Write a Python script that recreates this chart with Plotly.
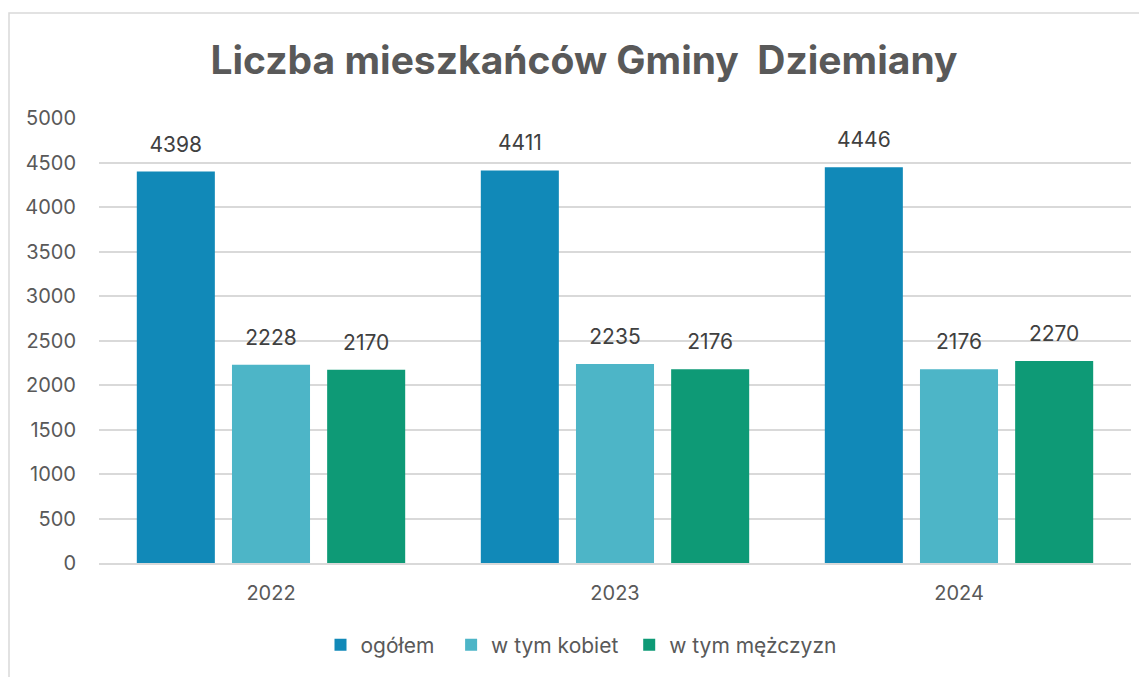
import plotly.graph_objects as go

years = ["2022", "2023", "2024"]
ogolem = [4398, 4411, 4446]
kobiet = [2228, 2235, 2176]
mezczyzn = [2170, 2176, 2270]

series_names = ["ogółem", "w tym kobiet", "w tym mężczyzn"]
series_values = [ogolem, kobiet, mezczyzn]
series_colors = ["#1189B8", "#4DB5C7", "#0E9A76"]
name_pads = ["  ", " ", ""]

FONT = "Inter"
TXT = "#595959"

fig = go.Figure()
for i, (name, vals, col) in enumerate(zip(series_names, series_values, series_colors)):
    fig.add_trace(go.Bar(
        x=years, y=vals, name=name + name_pads[i], marker=dict(color=col, line=dict(width=0)),
        offsetgroup=str(i),
    ))
for i, vals in enumerate(series_values):
    fig.add_trace(go.Scatter(
        x=years, y=vals, mode="markers+text", text=[str(v) for v in vals],
        textposition="top center", showlegend=False, offsetgroup=str(i),
        marker=dict(size=22, color="rgba(0,0,0,0)"),
        textfont=dict(size=21, color="#404040", family=FONT),
        cliponaxis=False, hoverinfo="skip",
    ))

# page places the figure at an 8px offset
OFF = 8
W, H = 1147 - OFF, 677 - OFF
ml, mr, mt, mb = 99 - OFF, 1147 - 1131, 118 - OFF, 677 - 563
pw, ph = W - ml - mr, H - mt - mb

fig.update_layout(
    width=W, height=H,
    margin=dict(l=ml, r=mr, t=mt, b=mb),
    paper_bgcolor="white", plot_bgcolor="white",
    barmode="group", bargap=0.17, bargroupgap=0.18,
    scattermode="group", scattergap=0.17,
    font=dict(family=FONT, color=TXT, size=20),
    title=dict(
        text="<b>Liczba mieszkańców Gminy  Dziemiany</b>",
        x=(584 - OFF) / W, xanchor="center", xref="container",
        y=1 - (60 - OFF) / H, yanchor="middle", yref="container",
        font=dict(family=FONT, size=39, color=TXT),
    ),
    legend=dict(
        orientation="h", x=(581 - OFF - ml) / pw, xanchor="center",
        y=(563 - 645) / ph, yanchor="middle",
        font=dict(size=21, color=TXT, family=FONT),
        itemwidth=30, tracegroupgap=0,
    ),
    xaxis=dict(
        showgrid=False, showline=True, linecolor="#D9D9D9", linewidth=2,
        ticks="", tickfont=dict(size=20, color=TXT), ticklabelstandoff=11,
    ),
    yaxis=dict(
        range=[0, 5000], dtick=500, showgrid=True, gridcolor="#D9D9D9", gridwidth=1.5,
        zeroline=False, showline=False, ticks="",
        tickfont=dict(size=20, color=TXT), ticklabelstandoff=22,
    ),
    shapes=[dict(
        type="rect", xref="paper", yref="paper",
        x0=(1 - ml) / pw, x1=(1180 - OFF - ml) / pw,
        y0=-(mb + 20) / ph, y1=(H - (13 - OFF) - mb) / ph,
        line=dict(color="#D9D9D9", width=1.5), fillcolor="rgba(0,0,0,0)", layer="below",
    )],
)

fig.write_html("out.html")
